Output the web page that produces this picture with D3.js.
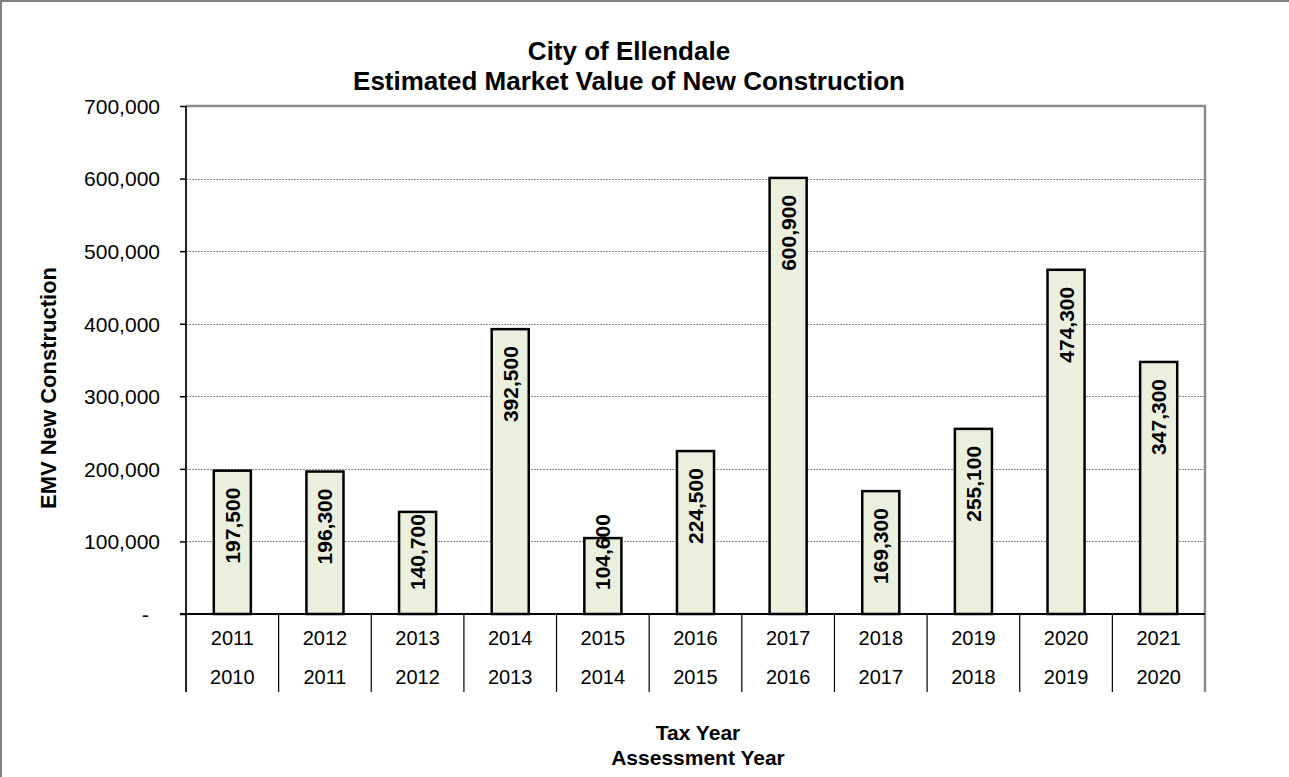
<!DOCTYPE html>
<html>
<head>
<meta charset="utf-8">
<script src="https://cdn.jsdelivr.net/npm/d3@7"></script>
<style>
  body { margin: 0; background: #fff; }
  text { font-family: Arial, 'Liberation Sans', sans-serif; fill: #000; }
</style>
</head>
<body>
<div id="graf"></div>
<script>
const taxYears = ['2011', '2012', '2013', '2014', '2015', '2016', '2017', '2018', '2019', '2020', '2021']
const assessYears = ['2010', '2011', '2012', '2013', '2014', '2015', '2016', '2017', '2018', '2019', '2020']
const valores = [197500, 196300, 140700, 392500, 104600, 224500, 600900, 169300, 255100, 474300, 347300]
const yTicks = [0, 100000, 200000, 300000, 400000, 500000, 600000, 700000]

const anchoTotal = 1289
const altoTotal = 777

const margin = { top: 106, left: 186, right: 84, bottom: 163 }
const ancho = anchoTotal - margin.left - margin.right
const alto = altoTotal - margin.top - margin.bottom
const altoCat = 78

const data = taxYears.map((t, i) => ({ tax: t, assess: assessYears[i], valor: valores[i] }))

const svg = d3.select('#graf')
  .append('svg')
  .attr('width', anchoTotal)
  .attr('height', altoTotal)

// borde del grafico (solo izquierda y arriba)
svg.append('path')
  .attr('d', `M1,${altoTotal} V1 H${anchoTotal}`)
  .attr('stroke', '#808080')
  .attr('stroke-width', 2)
  .attr('fill', 'none')

const g = svg.append('g')
  .attr('transform', `translate(${margin.left}, ${margin.top})`)

const y = d3.scaleLinear()
  .domain([0, 700000])
  .range([alto, 0])

const x = d3.scaleBand()
  .domain(taxYears)
  .range([0, ancho])
  .paddingInner(0.6)
  .paddingOuter(0.3)

const xCat = d3.scaleBand()
  .domain(taxYears)
  .range([0, ancho])

// lineas de cuadricula
g.append('g')
  .selectAll('line')
  .data(yTicks.filter(d => d > 0 && d < 700000))
  .join('line')
    .attr('x1', 0)
    .attr('x2', ancho)
    .attr('y1', d => Math.round(y(d)) + 0.5)
    .attr('y2', d => Math.round(y(d)) + 0.5)
    .attr('stroke', '#888')
    .attr('stroke-width', 1)
    .attr('stroke-dasharray', '2,1')

// marco superior y derecho
g.append('path')
  .attr('d', `M0,0 H${ancho} V${alto + altoCat}`)
  .attr('stroke', '#8c8c8c')
  .attr('stroke-width', 2.5)
  .attr('fill', 'none')

// eje y
const yAxisGroup = g.append('g')
  .call(
    d3.axisLeft(y)
      .tickValues(yTicks)
      .tickSize(6)
      .tickPadding(20)
      .tickFormat(d => d === 0 ? '-' : d3.format(',')(d))
  )
yAxisGroup.select('.domain').remove()
yAxisGroup.selectAll('line').attr('stroke', '#000').attr('stroke-width', 1.5)
yAxisGroup.selectAll('text')
  .style('font-size', '21px')
  .attr('dy', '0.35em')
  .attr('x', d => d === 0 ? -37 : -26)

g.append('line')
  .attr('x1', 0).attr('x2', 0)
  .attr('y1', 0).attr('y2', alto + altoCat)
  .attr('stroke', '#222')
  .attr('stroke-width', 2)

// barras
g.selectAll('rect.barra')
  .data(data)
  .join('rect')
    .attr('class', 'barra')
    .attr('x', d => x(d.tax))
    .attr('y', d => y(d.valor))
    .attr('width', x.bandwidth())
    .attr('height', d => alto - y(d.valor))
    .attr('fill', '#ebf0de')
    .attr('stroke', '#000')
    .attr('stroke-width', 2.5)

// etiquetas de valores
const etiquetas = g.selectAll('text.valor')
  .data(data)
  .join('text')
    .attr('class', 'valor')
    .attr('text-anchor', 'end')
    .attr('dominant-baseline', 'central')
    .style('font-size', '21px')
    .style('font-weight', 'bold')
    .text(d => d3.format(',')(d.valor))

etiquetas.each(function (d) {
  const largo = this.getComputedTextLength()
  const tope = Math.min(y(d.valor) + 17, alto - 24 - largo)
  const cx = x(d.tax) + x.bandwidth() / 2
  d3.select(this).attr('transform', `translate(${cx}, ${tope}) rotate(-90)`)
})

// eje x
g.append('line')
  .attr('x1', -6).attr('x2', ancho)
  .attr('y1', alto).attr('y2', alto)
  .attr('stroke', '#000')
  .attr('stroke-width', 2)

const bordes = taxYears.slice(1).map(t => xCat(t))
g.append('g')
  .selectAll('line')
  .data(bordes)
  .join('line')
    .attr('x1', d => d).attr('x2', d => d)
    .attr('y1', alto).attr('y2', alto + altoCat)
    .attr('stroke', '#000')
    .attr('stroke-width', 1.2)

g.append('g')
  .selectAll('text')
  .data(data)
  .join('text')
    .attr('x', d => xCat(d.tax) + xCat.bandwidth() / 2)
    .attr('y', alto + 24)
    .attr('dy', '0.35em')
    .attr('text-anchor', 'middle')
    .style('font-size', '20px')
    .text(d => d.tax)

g.append('g')
  .selectAll('text')
  .data(data)
  .join('text')
    .attr('x', d => xCat(d.tax) + xCat.bandwidth() / 2)
    .attr('y', alto + 63)
    .attr('dy', '0.35em')
    .attr('text-anchor', 'middle')
    .style('font-size', '20px')
    .text(d => d.assess)

// titulos
const titulo = svg.append('text')
  .attr('text-anchor', 'middle')
  .style('font-size', '26px')
  .style('font-weight', 'bold')
titulo.append('tspan').attr('x', 629).attr('y', 60).text('City of Ellendale')
titulo.append('tspan').attr('x', 629).attr('y', 90).text('Estimated Market Value of New Construction')

svg.append('text')
  .attr('text-anchor', 'middle')
  .attr('transform', 'translate(56, 388) rotate(-90)')
  .style('font-size', '22px')
  .style('font-weight', 'bold')
  .text('EMV New Construction')

const tituloX = svg.append('text')
  .attr('text-anchor', 'middle')
  .style('font-size', '21px')
  .style('font-weight', 'bold')
tituloX.append('tspan').attr('x', 698).attr('y', 740).text('Tax Year')
tituloX.append('tspan').attr('x', 698).attr('y', 765).text('Assessment Year')
</script>
</body>
</html>
